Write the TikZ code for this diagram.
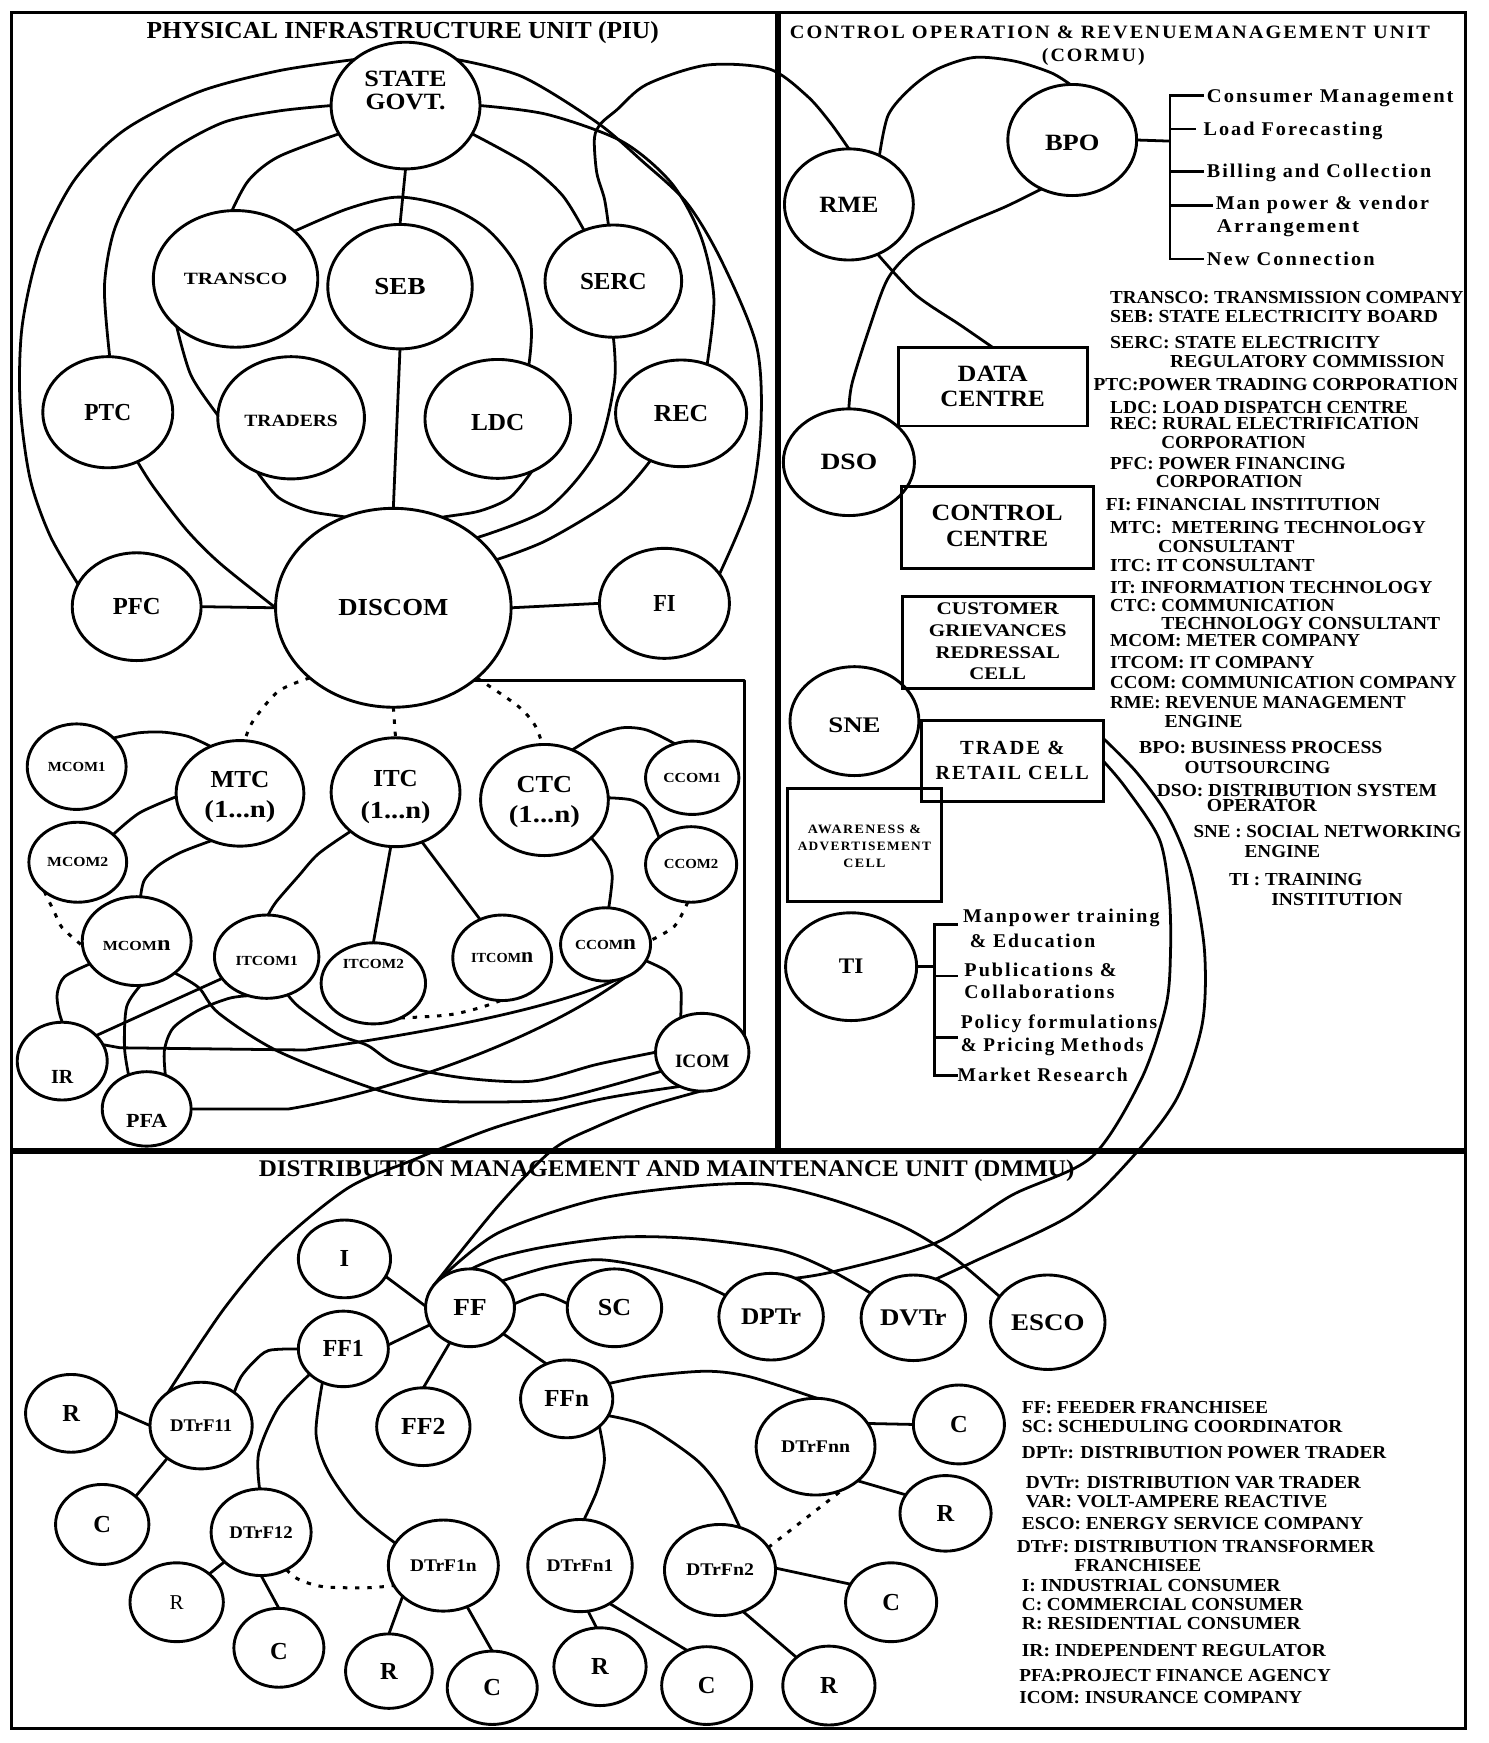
\documentclass[tikz,border=0pt]{standalone}
\usepackage{fontspec}
\setmainfont{Liberation Serif}
\newfontfamily\spf[LetterSpace=10]{Liberation Serif}
\usetikzlibrary{shapes.geometric,backgrounds}
\newcommand\fw[2]{\resizebox{#1pt}{\height}{#2}}
\newcommand\fz[1]{\fontsize{#1}{#1}\selectfont\bfseries}
\newcommand\up[2]{\raisebox{#1pt}[\height][\depth]{#2}}
\newcommand\tb[1]{\begin{tabular}{@{}c@{}}#1\end{tabular}}
\newcommand\mynode[7]{\node[cir,minimum width=#4pt,minimum height=#5pt,font={\fz{#6}}] (#1) at (#2,#3) {#7};}
\newcommand\legnode[5]{\node[tx,font={\fz{16.5}}] (#1) at ({#2},{#3+5.5}) {\fw{#4}{#5}};}
\newcommand\trnode[5]{\node[tx,font={\spf\fz{17.5}}] (#1) at ({#2},{#3+5.8}) {\fw{#4}{#5}};}
\begin{document}
\begin{tikzpicture}[x=1pt,y=-1pt,
  cir/.style={ellipse,draw,line width=2.6pt,fill=white,inner sep=0pt,outer sep=0pt},
  box/.style={rectangle,draw,line width=2.6pt,inner sep=0pt,outer sep=0pt},
  ln/.style={line width=2.5pt,line join=round},
  dt/.style={line width=2.7pt,dash pattern=on 4pt off 7pt},
  tx/.style={inner sep=0pt,anchor=base west}]
\useasboundingbox (0,0) rectangle (1339.2,1568.7);

% ---------- frames ----------
\draw[line width=2.7pt] (10,11) rectangle (1318.5,1556);
\draw[line width=5pt] (700,11) -- (700,1036);
\draw[line width=5pt] (10,1036) -- (1318.5,1036);

% ---------- titles ----------
\node[font={\fz{22}},anchor=base,inner sep=0pt] (piut) at (362.5,35) {\fw{461}{PHYSICAL INFRASTRUCTURE UNIT (PIU)}};
\node[font={\spf\fz{17}},anchor=base,inner sep=0pt] (cort1) at (999,35) {\fw{576}{CONTROL OPERATION \& REVENUEMANAGEMENT UNIT}};
\node[font={\spf\fz{17}},anchor=base,inner sep=0pt] (cort2) at (984,55.6) {\fw{92.6}{(CORMU)}};
\node[font={\fz{21.5}},anchor=base,inner sep=0pt] (dmt) at (600,1059) {\fw{734}{DISTRIBUTION MANAGEMENT AND MAINTENANCE UNIT (DMMU)}};

% ---------- PIU nodes ----------
\mynode{sg}{365}{95}{134}{114}{21}{\up{11}{\tb{\fw{74}{STATE}\\\fw{72}{GOVT.}}}}
\mynode{transco}{212}{251}{148}{123}{15.5}{\fw{93}{TRANSCO}}
\mynode{seb}{360}{258}{130}{112}{22}{\fw{46}{SEB}}
\mynode{serc}{552}{253}{123}{101}{22}{\fw{60}{SERC}}
\mynode{ptc}{97}{371}{117}{100}{22}{\fw{42}{PTC}}
\mynode{traders}{262}{376}{132}{110}{15.5}{\up{-3}{\fw{84}{TRADERS}}}
\mynode{ldc}{448}{377}{131}{107}{22}{\up{-3}{\fw{48}{LDC}}}
\mynode{rec}{613}{372}{118}{96}{22}{\fw{49}{REC}}
\mynode{discom}{354}{547}{212}{179}{22}{\fw{99}{DISCOM}}
\mynode{pfc}{123}{546}{116}{97}{22}{\fw{43}{PFC}}
\mynode{fi}{598}{543}{117}{99}{22}{\fw{20}{FI}}
\mynode{mcom1}{69}{690}{89}{77}{12.5}{\fw{52}{MCOM1}}
\mynode{mtc}{216}{714}{115}{95}{22}{\up{-4}{\tb{\fw{53}{MTC}\\[5pt]\fw{64}{(1...n)}}}}
\mynode{itc}{356}{713}{116}{98}{22}{\up{-5}{\tb{\fw{40}{ITC}\\[7pt]\fw{63}{(1...n)}}}}
\mynode{ctc}{490}{720}{115}{100}{22}{\up{-2}{\tb{\fw{50}{CTC}\\[5pt]\fw{64}{(1...n)}}}}
\mynode{ccom1}{623}{700}{84}{66}{12.5}{\fw{52}{CCOM1}}
\mynode{mcom2}{70}{776}{88}{72}{12.5}{\fw{55}{MCOM2}}
\mynode{ccom2}{622}{778}{82}{68}{12.5}{\fw{49}{CCOM2}}
\mynode{mcomn}{123}{847}{98}{80}{12.5}{\up{-4}{\fw{61}{MCOM{\fontsize{19}{19}\selectfont n}}}}
\mynode{itcom1}{240}{861}{94}{75}{12.5}{\up{-4}{\fw{56}{ITCOM1}}}
\mynode{itcom2}{336}{885}{94}{73}{12.5}{\up{17}{\fw{55}{ITCOM2}}}
\mynode{itcomn}{452}{862}{89}{77}{12.5}{\fw{56}{ITCOM{\fontsize{19}{19}\selectfont n}}}
\mynode{ccomn}{545}{850}{81}{66}{12.5}{\fw{55}{CCOM{\fontsize{19}{19}\selectfont n}}}
\mynode{ir}{56}{955}{81}{70}{18}{\up{-14}{\fw{20}{IR}}}
\mynode{pfa}{132}{998}{80}{67}{18}{\up{-11}{\fw{37}{PFA}}}
\mynode{icom}{632}{947}{84}{70}{17}{\up{-8}{\fw{49}{ICOM}}}

% ---------- CORMU nodes ----------
\mynode{rme}{764}{184}{116}{100}{21}{\fw{53}{RME}}
\mynode{bpo}{965}{126}{116}{100}{21}{\up{-3}{\fw{49}{BPO}}}
\mynode{dso}{764}{416}{118}{96}{21}{\fw{51}{DSO}}
\mynode{sne}{769}{649}{116}{98}{20}{\up{-4}{\fw{47}{SNE}}}
\mynode{ti}{766}{870}{118}{97}{20}{\fw{22}{TI}}
\node[box,minimum width=170pt,minimum height=70.7pt,font={\fz{21}}] (datacentre) at (893.4,348) {\up{-2}{\tb{\fw{63}{DATA}\\[1.6pt]\fw{94}{CENTRE}}}};
\node[box,minimum width=173pt,minimum height=73.5pt,font={\fz{21}}] (controlcentre) at (897.5,474.7) {\up{-1}{\tb{\fw{118}{CONTROL}\\[2pt]\fw{92}{CENTRE}}}};
\node[box,minimum width=172pt,minimum height=82.6pt,font={\fz{16}}] (cgrc) at (898,578.3) {\up{-1}{\tb{\fw{110}{CUSTOMER}\\[3.4pt]\fw{124}{GRIEVANCES}\\[3.4pt]\fw{112}{REDRESSAL}\\[3.4pt]\fw{51}{CELL}}}};
\node[box,minimum width=164pt,minimum height=73.3pt,font={\spf\fz{18}}] (trade) at (911,685) {\up{-1.5}{\tb{\fw{94}{TRADE \&}\\[4.6pt]\fw{138}{RETAIL CELL}}}};
\node[box,minimum width=138pt,minimum height=102pt,font={\spf\fz{11.5}}] (aware) at (778,760.6) {\up{-2.5}{\tb{\fw{102}{AWARENESS \&}\\[3.5pt]\fw{120}{ADVERTISEMENT}\\[3.5pt]\fw{38}{CELL}}}};

% BPO tree texts
\trnode{bx1}{1086}{86}{222}{Consumer Management}
\trnode{bx2}{1083}{116}{161}{Load Forecasting}
\trnode{bx3}{1086}{154}{202}{Billing and Collection}
\trnode{bx4}{1094}{183}{192}{Man power \& vendor}
\trnode{bx5}{1095}{203}{128}{Arrangement}
\trnode{bx6}{1086}{233}{151}{New Connection}
\coordinate (bsp) at (1053,127);
\coordinate (bt1) at (1084,86);
\coordinate (bt2) at (1076,116);
\coordinate (bt3) at (1084,154);
\coordinate (bt4) at (1092,185);
\coordinate (bt5) at (1084,233);

% TI tree texts
\trnode{tx1}{866.6}{824.4}{176.7}{Manpower training}
\trnode{tx2}{872.6}{846.7}{113}{\& Education}
\trnode{tx3}{867.8}{872.6}{137}{Publications \&}
\trnode{tx4}{867.8}{892.6}{135}{Collaborations}
\trnode{tx5}{864.5}{920}{176.8}{Policy formulations}
\trnode{tx6}{864.5}{940.6}{164.5}{\& Pricing Methods}
\trnode{tx7}{861.7}{967.2}{153}{Market Research}
\coordinate (tsp) at (841,870);
\coordinate (tt1) at (862.5,831.7);
\coordinate (tt2) at (862.5,878.3);
\coordinate (tt3) at (862.5,934);
\coordinate (tt4) at (862.5,968.2);

% CORMU legend
\legnode{lc1}{999}{268}{318}{TRANSCO: TRANSMISSION COMPANY}
\legnode{lc2}{999}{285}{295}{SEB: STATE ELECTRICITY BOARD}
\legnode{lc3}{999}{308}{243}{SERC: STATE ELECTRICITY}
\legnode{lc4}{1053}{325.5}{247}{REGULATORY COMMISSION}
\legnode{lc5}{984}{346}{328}{PTC:POWER TRADING CORPORATION}
\legnode{lc6}{999}{366.8}{268}{LDC: LOAD DISPATCH CENTRE}
\legnode{lc7}{999}{381}{278}{REC: RURAL ELECTRIFICATION}
\legnode{lc8}{1045}{398.5}{130}{CORPORATION}
\legnode{lc9}{999}{416.7}{212}{PFC: POWER FINANCING}
\legnode{lc10}{1040}{433}{132}{CORPORATION}
\legnode{lc11}{995}{454}{247}{FI: FINANCIAL INSTITUTION}
\legnode{lc12}{999}{474.6}{284}{MTC:\ \ METERING TECHNOLOGY}
\legnode{lc13}{1042}{491.8}{123}{CONSULTANT}
\legnode{lc14}{999}{509}{184}{ITC: IT CONSULTANT}
\legnode{lc15}{999}{528.7}{290}{IT: INFORMATION TECHNOLOGY}
\legnode{lc16}{999}{544.6}{202}{CTC: COMMUNICATION}
\legnode{lc17}{1045}{561.3}{251}{TECHNOLOGY CONSULTANT}
\legnode{lc18}{999}{576}{225}{MCOM: METER COMPANY}
\legnode{lc19}{999}{596}{184}{ITCOM: IT COMPANY}
\legnode{lc20}{999}{614.2}{312}{CCOM: COMMUNICATION COMPANY}
\legnode{lc21}{999}{632}{266}{RME: REVENUE MANAGEMENT}
\legnode{lc22}{1048}{649.2}{70}{ENGINE}
\legnode{lc23}{1025}{672.5}{219}{BPO: BUSINESS PROCESS}
\legnode{lc24}{1066}{690.2}{131}{OUTSOURCING}
\legnode{lc25}{1041}{711.1}{252}{DSO: DISTRIBUTION SYSTEM}
\legnode{lc26}{1086}{724.5}{99}{OPERATOR}
\legnode{lc27}{1074}{748.4}{241}{SNE : SOCIAL NETWORKING}
\legnode{lc28}{1120}{765.8}{68}{ENGINE}
\legnode{lc29}{1106}{791.7}{120}{TI : TRAINING}
\legnode{lc30}{1144}{809}{118}{INSTITUTION}

% ---------- DMMU nodes ----------
\mynode{i}{310}{1133}{83}{70}{22}{I}
\mynode{ff}{423}{1177}{80}{70}{22}{\fw{30}{FF}}
\mynode{sc}{553}{1177}{85}{70}{22}{\fw{30}{SC}}
\mynode{ff1}{309}{1214}{81}{68}{22}{\fw{37}{FF1}}
\mynode{ff2}{381}{1284}{84}{70}{22}{\fw{40}{FF2}}
\mynode{ffn}{510}{1259}{83}{70}{22}{\fw{40}{FFn}}
\mynode{r1}{64}{1272}{82}{70}{22}{R}
\mynode{dtrf11}{181}{1283}{92}{78}{16}{\fw{56}{DTrF11}}
\mynode{c1}{92}{1372}{84}{72}{22}{C}
\mynode{dtrf12}{235}{1379}{90}{78}{16}{\fw{57}{DTrF12}}
\node[cir,minimum width=84pt,minimum height=71pt,font={\fontsize{19}{19}\selectfont}] (r2) at (159,1442) {R};
\mynode{c2}{251}{1483}{81}{71}{22}{\up{-3}{C}}
\mynode{dtrf1n}{399}{1409}{99}{82}{16}{\fw{60}{DTrF1n}}
\mynode{r3}{350}{1504}{78}{67}{22}{R}
\mynode{c3}{443}{1519}{81}{66}{22}{C}
\mynode{dtrfn1}{522}{1409}{94}{83}{16}{\fw{60}{DTrFn1}}
\mynode{r4}{540}{1500}{83}{70}{22}{R}
\mynode{c4}{636}{1517}{81}{70}{22}{C}
\mynode{dtrfn2}{648}{1413}{100}{82}{16}{\fw{61}{DTrFn2}}
\mynode{dptr}{694}{1185}{94}{78}{21.5}{\fw{54}{DPTr}}
\mynode{dvtr}{822}{1186}{94}{77}{21.5}{\fw{60}{DVTr}}
\mynode{esco}{943}{1190}{103}{85}{21.5}{\fw{66}{ESCO}}
\mynode{dtrfnn}{734}{1302}{107}{87}{16}{\fw{62}{DTrFnn}}
\mynode{c5}{863}{1282}{82}{71}{22}{C}
\mynode{r5}{851}{1362}{82}{68}{22}{R}
\mynode{c6}{802}{1442}{82}{71}{22}{C}
\mynode{r6}{746}{1517}{83}{71}{22}{R}

% DMMU legend
\legnode{ld1}{919.5}{1266.5}{221.6}{FF: FEEDER FRANCHISEE}
\legnode{ld2}{919.5}{1283.5}{288.5}{SC: SCHEDULING COORDINATOR}
\legnode{ld3}{919.5}{1307.3}{328}{DPTr: DISTRIBUTION POWER TRADER}
\legnode{ld4}{923}{1333.9}{301.7}{DVTr: DISTRIBUTION VAR TRADER}
\legnode{ld5}{923}{1350.9}{271.4}{VAR: VOLT-AMPERE REACTIVE}
\legnode{ld6}{919.5}{1371.3}{307.6}{ESCO: ENERGY SERVICE COMPANY}
\legnode{ld7}{915}{1391.7}{322}{DTrF: DISTRIBUTION TRANSFORMER}
\legnode{ld8}{967}{1408.8}{114}{FRANCHISEE}
\legnode{ld9}{919.5}{1426.5}{233}{I: INDUSTRIAL CONSUMER}
\legnode{ld10}{919.5}{1443.5}{253.3}{C: COMMERCIAL CONSUMER}
\legnode{ld11}{919.5}{1461.2}{251}{R: RESIDENTIAL CONSUMER}
\legnode{ld12}{919.5}{1485}{273.6}{IR: INDEPENDENT REGULATOR}
\legnode{ld13}{917.2}{1508}{280.4}{PFA:PROJECT FINANCE AGENCY}
\legnode{ld14}{917.2}{1527.9}{254.6}{ICOM: INSURANCE COMPANY}

% ---------- connectors (behind nodes) ----------
\begin{scope}[on background layer]
\fill[white] (0,0) rectangle (1339.2,1568.7);
% PIU
\draw[ln] plot[smooth] coordinates {(sg.138) (250.7,63.7) (179,82.7) (112,117) (67,162) (35.8,224) (20,293) (18,362) (27,430.5) (45,482) (pfc.159)};
\draw[ln] plot[smooth] coordinates {(sg.42) (470,69) (537,110) (577.6,144.6) (618,182.5) (649,234) (680.6,310) (685,379) (676,447.7) (fi.28)};
\draw[ln] plot[smooth] coordinates {(sg.180) (250.7,99.9) (201.5,110) (156.7,134) (125,165) (103,206.6) (94,258) (ptc.88)};
\draw[ln] plot[smooth] coordinates {(sg.0) (492.5,103) (560,127.4) (604.5,165) (631,213.5) (642.5,268.6) (rec.62)};
\draw[ln] plot[smooth] coordinates {(sg.203) (250.7,141) (224,162) (transco.93)};
\draw[ln] plot[smooth] coordinates {(sg.337) (474.6,148) (506,175.6) (serc.120)};
\draw[ln] (sg.south) -- (seb.north);
\draw[ln] (seb.south) -- (discom.north);
\draw[ln] plot[smooth] coordinates {(transco.39) (313.4,187.7) (358,177.4) (403,186) (438.8,206.6) (465.7,241) (478,292.7) (ldc.60)};
\draw[ln] plot[smooth] coordinates {(transco.219) (172,338) (traders.178)};
\draw[ln] plot[smooth] coordinates {(traders.238) (250.7,447.8) (277.6,459.8) (309,465) (355,472) (401,465) (432,459.8) (459,447.8) (ldc.303)};
\draw[ln] plot[smooth] coordinates {(serc.south) (553,344) (537,406) (492.6,458) (discom.40)};
\draw[ln] plot[smooth] coordinates {(rec.237) (555,448) (492.6,486) (discom.25)};
\draw[ln] plot[smooth] coordinates {(ptc.301) (138,438) (168,477) (198,507) (discom.west)};
\draw[ln] (pfc.east) -- (discom.west);
\draw[ln] (discom.east) -- (fi.west);
\draw[ln] plot[smooth] coordinates {(serc.95) (544,179) (537,155) (535,124) (541,111) (555,99) (582,76) (636,58.6) (692,62) (726,86) (747,110) (rme.north)};
\draw[dt] plot[smooth] coordinates {(discom.220) (250.7,622) (228,648.5) (mtc.85)};
\draw[dt] (discom.south) -- (itc.north);
\draw[dt] plot[smooth] coordinates {(discom.320) (465.6,635) (481,652) (ctc.92)};
\draw[ln] (discom.318) -| (icom.22);
% MTC group
\draw[ln] plot[smooth] coordinates {(mcom1.38) (125,659.5) (147.7,659) (170,663) (mtc.122)};
\draw[ln] plot[smooth] coordinates {(mtc.183) (125.4,731.7) (mcom2.38)};
\draw[ln] plot[smooth] coordinates {(mtc.239) (163,767) (143.3,778.4) (130,792) (mcomn.85)};
\draw[dt] plot[smooth] coordinates {(mcom2.221) (49.3,821.7) (56,835) (mcomn.185)};
% ITC group
\draw[ln] plot[smooth] coordinates {(itc.221) (286.6,768.4) (268.7,788.4) (248.5,811.7) (itcom1.88)};
\draw[ln] (itc.265) -- (itcom2.north);
\draw[ln] (itc.298) -- (itcomn.120);
% CTC group
\draw[ln] plot[smooth] coordinates {(ctc.61) (537,662) (559.7,655) (582,657) (ccom1.117)};
\draw[ln] plot[smooth] coordinates {(ctc.2) (568.6,720) (582,728.5) (ccom2.140)};
\draw[ln] plot[smooth] coordinates {(ctc.321) (546,771.8) (551,788.4) (ccomn.85)};
\draw[dt] plot[smooth] coordinates {(ccom2.265) (607,833.6) (ccomn.5)};
% lower tangle
\draw[ln] plot[smooth] coordinates {(mcomn.206) (58.2,879) (51.5,894) (52.8,909) (ir.north)};
\draw[ln] plot[smooth] coordinates {(mcomn.275) (114,906) (112,942) (pfa.118)};
\draw[ln] (itcom1.206) -- (ir.37);
\draw[ln] (ir.22) -- (108,943) -- (275,945) .. controls (330,937) and (480,915) .. (ccomn.285);
\draw[ln] plot[smooth] coordinates {(pfa.61) (148,945) (156,925) (179,909) (206,898.5) (itcom1.245)};
\draw[ln] plot[smooth] coordinates {(mcomn.320) (179,889) (197,912) (251,946.5) (340,981) (394,991) (484,991) (520,985) (icom.205)};
\draw[ln] plot[smooth] coordinates {(itcom1.299) (270,907) (304.5,931) (331,941) (358,958) (416.5,970) (479,973) (537,958) (icom.west)};
\draw[ln] (pfa.east) -- (260,998) .. controls (340,985) and (480,940) .. (ccomn.300);
\draw[ln] plot[smooth] coordinates {(ccomn.338) (600,874) (612,888) (613,902) (icom.122)};
\draw[dt] plot[smooth] coordinates {(itcom2.308) (403,913.5) (430,907.5) (itcomn.268)};
\draw[ln] plot[smooth] coordinates {(icom.237) (537,990) (447.8,1014) (371.7,1044) (313.5,1069) (250.8,1120) (201.5,1178) (dtrf11.135)};
\draw[ln] plot[smooth] coordinates {(icom.268) (582,996) (537,1014) (497,1035) (447.8,1086) (ff.150)};
% CORMU
\draw[ln] plot[smooth] coordinates {(rme.58) (799.5,103.3) (819.8,79.2) (844,62) (876.7,51.7) (913,55) (945.8,65.4) (bpo.92)};
\draw[ln] plot[smooth] coordinates {(bpo.238) (905,186) (864.5,203.2) (823.9,223.9) (799.5,250) (783.3,292.7) (767,344.4) (dso.north)};
\draw[ln] plot[smooth] coordinates {(rme.300) (823.9,265.2) (864.5,292.7) (datacentre.north)};
\draw[ln] (bpo.east) -- (bsp);
\draw[ln,line cap=rect] (bt1 -| bsp) -- (bt5 -| bsp);
\foreach \k in {1,...,5} \draw[ln] (bt\k -| bsp) -- (bt\k);
\draw[ln] (ti.east) -- (tsp);
\draw[ln,line cap=rect] (tt1 -| tsp) -- (tt4 -| tsp);
\foreach \k in {1,...,4} \draw[ln] (tt\k -| tsp) -- (tt\k);
\draw[ln] plot[smooth] coordinates {(trade.14) (1023,695.2) (1051.4,735) (1071.7,785) (1084,855) (1082,921.6) (1059.5,988) (1019,1041.5) (964.7,1093) (876.5,1135.4) (dvtr.60)};
\draw[ln] plot[smooth] coordinates {(trade.east) (1012.8,708.5) (1043.3,755) (1052.2,805) (1053.5,855) (1049.4,905) (1027,971.6) (982.3,1041.5) (910.4,1075.8) (842.6,1118.4) (752,1144) (dptr.58)};
% DMMU
\draw[ln] plot[smooth] coordinates {(ff.140) (447.8,1109.9) (537.3,1079.3) (627,1067.3) (690,1066) (750,1080) (811,1103) (856,1130) (esco.152)};
\draw[ln] plot[smooth] coordinates {(ff.88) (447.8,1132) (492.6,1121.8) (559.8,1113.3) (627,1115) (702,1125.2) (745,1142) (dvtr.150)};
\draw[ln] plot[smooth] coordinates {(ff.40) (492.6,1140.5) (537.3,1133.7) (582,1140.5) (627,1154.1) (dptr.155)};
\draw[ln] plot[smooth] coordinates {(ff.5) (488,1165) (sc.175)};
\draw[ln] (i.337) -- (ff.178);
\draw[ln] (ff.203) -- (ff1.5);
\draw[ln] (ff.240) -- (ff2.north);
\draw[ln] (ff.322) -- (ffn.120);
\draw[ln] plot[smooth] coordinates {(ff1.180) (241.8,1215.4) (228.4,1225.6) (217,1239) (dtrf11.45)};
\draw[ln] plot[smooth] coordinates {(ff1.217) (250.8,1266.5) (232.9,1307.3) (dtrf12.92)};
\draw[ln] plot[smooth] coordinates {(ff1.238) (284.4,1290.3) (295.5,1324.3) (322.4,1361.8) (dtrf1n.155)};
\draw[ln] (r1.3) -- (dtrf11.180);
\draw[ln] (dtrf11.224) -- (c1.40);
\draw[ln] (dtrf12.219) -- (r2.41);
\draw[ln] (dtrf12.south) -- (c2.north);
\draw[dt] plot[smooth] coordinates {(dtrf12.304) (268.7,1421.4) (291,1428) (330,1429) (dtrf1n.202)};
\draw[ln] (dtrf1n.217) -- (r3.north);
\draw[ln] (dtrf1n.300) -- (c3.north);
\draw[ln] plot[smooth] coordinates {(ffn.320) (544,1314) (537.4,1341.4) (dtrfn1.85)};
\draw[ln] plot[smooth] coordinates {(ffn.338) (582,1283.5) (627,1314) (649.3,1341.4) (dtrfn2.65)};
\draw[ln] plot[smooth] coordinates {(ffn.20) (582,1238.6) (636,1234.1) (675.2,1239.2) (dtrfnn.88)};
\draw[ln] (dtrfn1.280) -- (r4.95);
\draw[ln] (dtrfn1.308) -- (c4.119);
\draw[ln] (dtrfn2.2) -- (c6.156);
\draw[ln] (dtrfn2.299) -- (r6.139);
\draw[ln] (dtrfnn.24) -- (c5.west);
\draw[ln] (dtrfnn.321) -- (r5.155);
\draw[dt] (dtrfn2.25) -- (dtrfnn.302);
\end{scope}
\end{tikzpicture}
\end{document}
